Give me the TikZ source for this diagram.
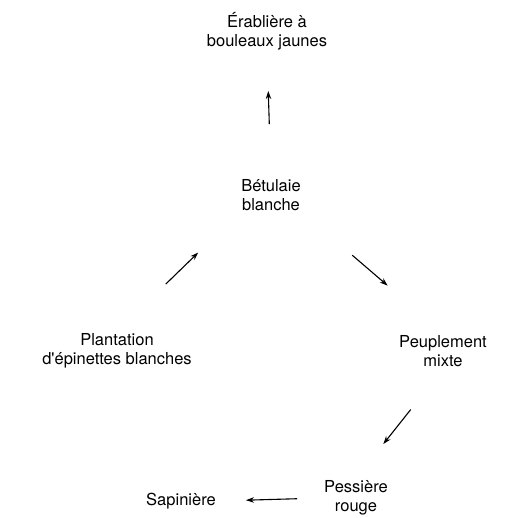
\documentclass[tikz,border=0pt]{standalone}
\usepackage{fontspec}
\setmainfont{TeX Gyre Heros}
\usetikzlibrary{arrows.meta}
\tikzset{
  lbl/.style={align=center,font=\fontsize{16.5}{19}\selectfont,inner sep=2pt},
  arr/.style={line width=1.1pt,-{Stealth[length=8pt,width=5.5pt]}}
}
\begin{document}
\begin{tikzpicture}[x=1pt,y=-1pt]
\useasboundingbox (0,0) rectangle (513,518);
\node[lbl] (erab) at (267,31) {Érablière à\\bouleaux jaunes};
\node[lbl] (betul) at (271,195) {Bétulaie\\blanche};
\node[lbl] (plant) at (117,351) {Plantation\\d\textquotesingle épinettes blanches};
\node[lbl] (peupl) at (443,351) {Peuplement\\mixte};
\node[lbl] (pess) at (356,498) {Pessière\\rouge};
\node[lbl] (sapin) at (181,501) {Sapinière};
\draw[arr,shorten <=53pt,shorten >=39pt] (betul.north) -- (erab.south);
\draw[arr,shorten <=68pt,shorten >=57pt] (plant.north) -- (betul.south west);
\draw[arr,shorten <=65pt,shorten >=73pt] (betul.south east) -- (peupl.north);
\draw[arr,shorten <=52pt,shorten >=44pt] (peupl.south) -- (pess.north);
\draw[arr,shorten <=25pt,shorten >=28pt] (pess.west) -- (sapin.east);
\end{tikzpicture}
\end{document}
